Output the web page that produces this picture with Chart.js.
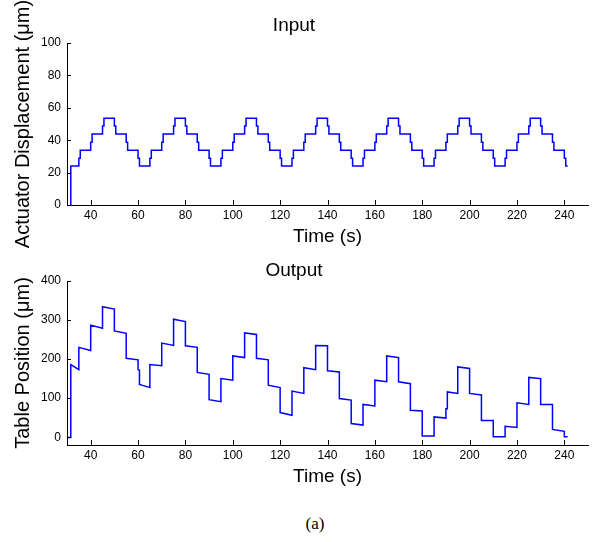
<!DOCTYPE html>
<html>
<head>
<meta charset="utf-8">
<script src="https://cdn.jsdelivr.net/npm/chart.js@4.4.1/dist/chart.umd.min.js"></script>
<style>
  html, body { margin: 0; padding: 0; background: #fff; }
  #wrap { position: relative; width: 600px; height: 542px; overflow: hidden; }
  #cht-input { position: absolute; left: 0; top: 0; }
  #cht-output { position: absolute; left: 0; top: 250px; }
  #caption { position: absolute; left: 0; width: 630px; top: 514px; text-align: center;
             font-family: 'Liberation Serif', 'Times New Roman', serif; font-size: 17px; color: #000; }
</style>
</head>
<body>
<div id="wrap">
  <canvas id="cht-input" width="600" height="250"></canvas>
  <canvas id="cht-output" width="600" height="240"></canvas>
  <div id="caption">(a)</div>
</div>
<script>
var xTicks = [40, 60, 80, 100, 120, 140, 160, 180, 200, 220, 240];
var inputTicks = [0, 20, 40, 60, 80, 100];
var outputTicks = [0, 100, 200, 300, 400];

// input: value holds from each time until the next one
var inputTime = [31.6, 31.6, 35, 35.6, 40, 40.6, 45, 45.6, 50, 50.6, 55, 55.6, 60, 60.6,
    65, 65.6, 70, 70.6, 75, 75.6, 80, 80.6, 85, 85.6, 90, 90.6, 95, 95.6, 100, 100.6,
    105, 105.6, 110, 110.6, 115, 115.6, 120, 120.6, 125, 125.6, 130, 130.6, 135, 135.6,
    140, 140.6, 145, 145.6, 150, 150.6, 155, 155.6, 160, 160.6, 165, 165.6, 170, 170.6,
    175, 175.6, 180, 180.6, 185, 185.6, 190, 190.6, 195, 195.6, 200, 200.6, 205, 205.6,
    210, 210.6, 215, 215.6, 220, 220.6, 225, 225.6, 230, 230.6, 235, 235.6, 240, 240.6, 241.4];
var inputValue = [0, 24, 28.9, 33.8, 38.8, 43.8, 48.7, 53.6, 48.7, 43.8, 38.8, 33.8, 28.9, 24,
    28.9, 33.8, 38.8, 43.8, 48.7, 53.6, 48.7, 43.8, 38.8, 33.8, 28.9, 24, 28.9, 33.8, 38.8, 43.8,
    48.7, 53.6, 48.7, 43.8, 38.8, 33.8, 28.9, 24, 28.9, 33.8, 38.8, 43.8, 48.7, 53.6,
    48.7, 43.8, 38.8, 33.8, 28.9, 24, 28.9, 33.8, 38.8, 43.8, 48.7, 53.6, 48.7, 43.8,
    38.8, 33.8, 28.9, 24, 28.9, 33.8, 38.8, 43.8, 48.7, 53.6, 48.7, 43.8, 38.8, 33.8,
    28.9, 24, 28.9, 33.8, 38.8, 43.8, 48.7, 53.6, 48.7, 43.8, 38.8, 33.8, 28.9, 24, 24];

// output: start/end of each step (drifts a little inside a step)
var outputTime = [30, 31.6, 31.6, 35, 35, 40, 40, 45, 45, 50, 50, 55, 55, 60, 60, 60.6, 60.6,
    65, 65, 70, 70, 75, 75, 80, 80, 85, 85, 90, 90, 95, 95, 100, 100, 105, 105, 110, 110,
    115, 115, 120, 120, 125, 125, 130, 130, 135, 135, 140, 140, 145, 145, 150, 150, 155, 155,
    160, 160, 165, 165, 170, 170, 175, 175, 180, 180, 185, 185, 190, 190, 190.6, 190.6,
    195, 195, 200, 200, 205, 205, 210, 210, 215, 215, 220, 220, 225, 225, 230, 230, 235, 235,
    240, 240, 241.4];
var outputValue = [-1, -1, 186, 173, 230, 222, 287, 279, 334, 328, 272, 266, 202, 198, 173, 172, 135,
    127, 186, 183, 241, 235, 302, 296, 234, 230, 166, 161, 96, 91, 150, 146, 208, 204, 267, 263, 202,
    198, 133, 127, 63, 56, 118, 112, 178, 173, 235, 234, 170, 167, 99, 95, 35, 31, 84,
    80, 146, 142, 208, 204, 142, 137, 69, 67, 3, 3, 52, 49, 73, 73, 116,
    112, 180, 176, 112, 108, 43, 43, 1, 1, 28, 25, 88, 84, 153, 150, 84, 84, 20,
    15, 1, 1];

var fontFamily = "'Liberation Sans', Arial, sans-serif";

// matlab style ticks pointing into the plot
var inwardTicks = {
    id: 'inwardTicks',
    afterDatasetsDraw: function (chart) {
        var ctx = chart.ctx, area = chart.chartArea, x = chart.scales.x, y = chart.scales.y;
        ctx.save();
        ctx.strokeStyle = '#000';
        ctx.lineWidth = 1;
        ctx.beginPath();
        x.ticks.forEach(function (t) {
            var px = Math.round(x.getPixelForValue(t.value)) + 0.5;
            ctx.moveTo(px, area.bottom);
            ctx.lineTo(px, area.bottom - 5);
        });
        y.ticks.forEach(function (t) {
            var py = Math.round(y.getPixelForValue(t.value)) + 0.5;
            ctx.moveTo(area.left, py);
            ctx.lineTo(area.left + 4, py);
        });
        ctx.stroke();
        ctx.restore();
    }
};

function points(ts, vs) {
    return ts.map(function (t, i) { return { x: t, y: vs[i] }; });
}

function makeChart(id, cfg) {
    return new Chart(document.getElementById(id), {
        type: 'line',
        data: {
            datasets: [{
                data: points(cfg.time, cfg.value),
                stepped: cfg.stepped,
                borderColor: '#0000ff',
                borderWidth: 1.5,
                pointRadius: 0,
                fill: false,
                tension: 0
            }]
        },
        options: {
            responsive: false,
            animation: false,
            devicePixelRatio: 1,
            layout: { padding: { left: 0, right: 12, top: 0, bottom: 0 } },
            plugins: {
                legend: { display: false },
                tooltip: { enabled: false },
                title: {
                    display: true,
                    text: cfg.title,
                    color: '#000',
                    font: { family: fontFamily, size: 19, weight: 'normal', lineHeight: 1 },
                    padding: cfg.titlePad
                }
            },
            scales: {
                x: {
                    type: 'linear',
                    min: 30,
                    max: 250,
                    grid: { display: false, drawTicks: false },
                    border: { display: true, color: '#000', width: 1 },
                    afterBuildTicks: function (s) { s.ticks = xTicks.map(function (v) { return { value: v }; }); },
                    afterFit: function (s) { s.height = cfg.xHeight; },
                    ticks: { color: '#000', padding: 3, maxRotation: 0, autoSkip: false,
                             font: { family: fontFamily, size: 12 } },
                    title: { display: true, text: 'Time (s)', color: '#000',
                             font: { family: fontFamily, size: 19 }, padding: { top: 0, bottom: 2 } }
                },
                y: {
                    min: cfg.yMin,
                    max: cfg.yMax,
                    grid: { display: false, drawTicks: false },
                    border: { display: true, color: '#000', width: 1 },
                    afterBuildTicks: function (s) { s.ticks = cfg.yTicks.map(function (v) { return { value: v }; }); },
                    afterFit: function (s) { s.width = 67; },
                    ticks: { color: '#000', padding: 6, font: { family: fontFamily, size: 12 } },
                    title: { display: true, text: cfg.yTitle, color: '#000',
                             font: { family: fontFamily, size: 20 }, padding: { top: 11, bottom: 0 } }
                }
            }
        },
        plugins: [inwardTicks]
    });
}

makeChart('cht-input', {
    title: 'Input',
    titlePad: { top: 16, bottom: 8 },
    time: inputTime,
    value: inputValue,
    stepped: true,
    yMin: 0,
    yMax: 100,
    yTicks: inputTicks,
    xHeight: 45,
    yTitle: 'Actuator Displacement (\u03bcm)'
});

makeChart('cht-output', {
    title: 'Output',
    titlePad: { top: 11, bottom: 1 },
    time: outputTime,
    value: outputValue,
    stepped: false,
    yMin: -20,
    yMax: 400,
    yTicks: outputTicks,
    xHeight: 45,
    yTitle: 'Table Position (\u03bcm)'
});
</script>
</body>
</html>
